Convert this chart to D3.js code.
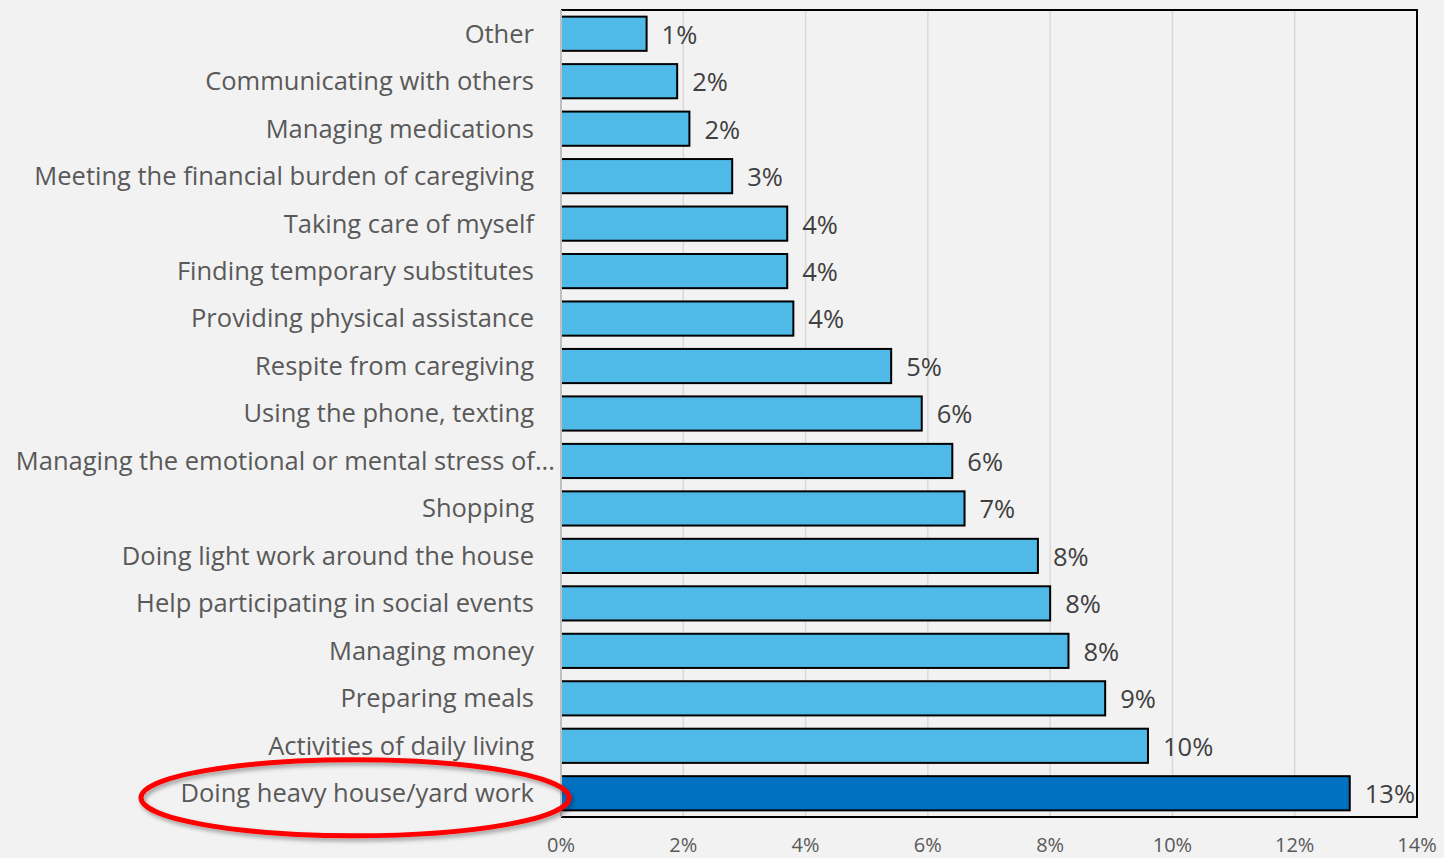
<!DOCTYPE html>
<html>
<head>
<meta charset="utf-8">
<script src="https://cdn.jsdelivr.net/npm/d3@7"></script>
<style>
  body { margin: 0; background: #f2f2f2; }
  svg { display: block; font-family: "Open Sans", sans-serif; }
</style>
</head>
<body>
<svg id="chart"></svg>
<script>
const CATEGORIES = ["Other", "Communicating with others", "Managing medications",
  "Meeting the financial burden of caregiving", "Taking care of myself",
  "Finding temporary substitutes", "Providing physical assistance",
  "Respite from caregiving", "Using the phone, texting",
  "Managing the emotional or mental stress of...", "Shopping",
  "Doing light work around the house", "Help participating in social events",
  "Managing money", "Preparing meals", "Activities of daily living",
  "Doing heavy house/yard work"];
const VALUES = [1.4, 1.9, 2.1, 2.8, 3.7, 3.7, 3.8, 5.4, 5.9, 6.4, 6.6, 7.8, 8.0, 8.3, 8.9, 9.6, 12.9];
const X_TICKS = [0, 2, 4, 6, 8, 10, 12, 14];
const HIGHLIGHT = "Doing heavy house/yard work";

var width = 1444, height = 858;
var margin = {top: 10, right: 27, bottom: 41, left: 561};

var svg = d3.select("#chart").attr("width", width).attr("height", height);

var x = d3.scaleLinear().domain([0, 14]).range([margin.left, width - margin.right]);
var y = d3.scaleBand().domain(CATEGORIES).range([margin.top, height - margin.bottom]).paddingInner(0.28).paddingOuter(0.14);

// gridlines
svg.append("g")
  .selectAll("line")
  .data(X_TICKS.slice(1, -1))
  .enter().append("line")
    .attr("x1", d => x(d)).attr("x2", d => x(d))
    .attr("y1", margin.top).attr("y2", height - margin.bottom)
    .attr("stroke", "#d9d9d9").attr("stroke-width", 1.5);

// bars
svg.append("g")
  .selectAll("rect")
  .data(CATEGORIES)
  .enter().append("rect")
    .attr("x", x(0))
    .attr("y", d => y(d))
    .attr("width", (d, i) => x(VALUES[i]) - x(0))
    .attr("height", y.bandwidth())
    .attr("fill", d => d == HIGHLIGHT ? "#0070c0" : "#4fbae8")
    .attr("stroke", "#000")
    .attr("stroke-width", 2);

// value labels
svg.append("g")
  .selectAll("text")
  .data(CATEGORIES)
  .enter().append("text")
    .attr("x", (d, i) => x(VALUES[i]) + 15)
    .attr("y", d => y(d) + y.bandwidth() / 2 + 1)
    .attr("dy", "0.35em")
    .attr("fill", "#404040")
    .style("font-size", "25.5px")
    .text((d, i) => Math.round(VALUES[i]) + "%");

// frame
svg.append("path")
  .attr("d", "M" + x(0) + "," + margin.top + "H" + x(14) + "V" + (height - margin.bottom) + "H" + x(0))
  .attr("fill", "none").attr("stroke", "#000").attr("stroke-width", 2);
svg.append("line")
  .attr("x1", x(0)).attr("x2", x(0))
  .attr("y1", margin.top).attr("y2", height - margin.bottom)
  .attr("stroke", "#bfbfbf").attr("stroke-width", 2);

// category labels
svg.append("g")
  .selectAll("text")
  .data(CATEGORIES)
  .enter().append("text")
    .attr("x", d => d.endsWith("...") ? x(0) - 6 : x(0) - 27)
    .attr("y", d => y(d) + y.bandwidth() / 2)
    .attr("dy", "0.35em")
    .attr("text-anchor", "end")
    .attr("fill", "#595959")
    .style("font-size", "25.5px")
    .text(d => d);

// x tick labels
svg.append("g")
  .selectAll("text")
  .data(X_TICKS)
  .enter().append("text")
    .attr("x", d => x(d))
    .attr("y", height - 6)
    .attr("text-anchor", "middle")
    .attr("fill", "#595959")
    .style("font-size", "20px")
    .text(d => d + "%");

// red ellipse round the highlighted label
var defs = svg.append("defs");
var f = defs.append("filter").attr("id", "shadow").attr("x", "-20%").attr("y", "-50%").attr("width", "140%").attr("height", "200%");
f.append("feDropShadow").attr("dx", 2).attr("dy", 3).attr("stdDeviation", 2).attr("flood-color", "#000").attr("flood-opacity", 0.35);

svg.append("ellipse")
  .attr("cx", 355)
  .attr("cy", y(HIGHLIGHT) + y.bandwidth() / 2 + 4.5)
  .attr("rx", 214)
  .attr("ry", 38)
  .attr("fill", "none")
  .attr("stroke", "#ff0000")
  .attr("stroke-width", 5)
  .attr("filter", "url(#shadow)");
</script>
</body>
</html>
